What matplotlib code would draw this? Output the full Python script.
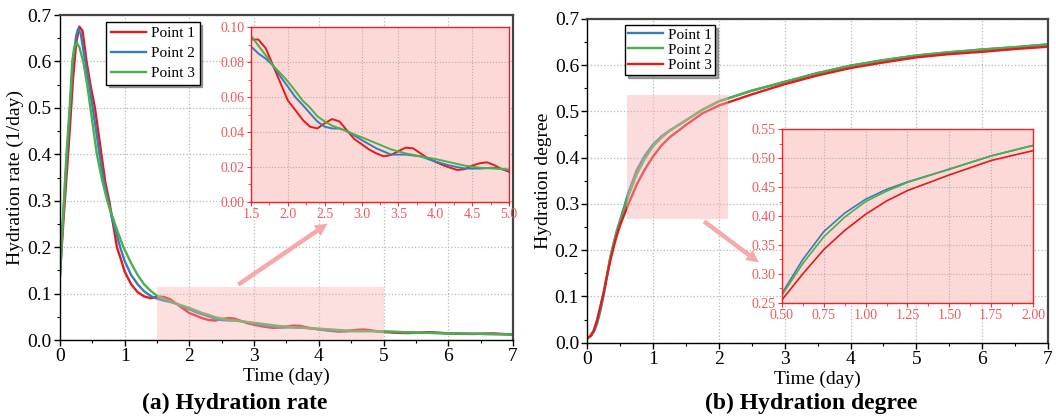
import numpy as np
import matplotlib
matplotlib.use('Agg')
import matplotlib.pyplot as plt
from matplotlib.ticker import MultipleLocator
from matplotlib.patches import Rectangle

plt.rcParams['font.family'] = ['Liberation Serif', 'DejaVu Serif']
plt.rcParams['lines.solid_joinstyle'] = 'round'

# ---------------- (a) hydration rate ----------------
rate_t_p1 = [0, 0.05, 0.1, 0.15, 0.2, 0.25, 0.3, 0.35, 0.41, 0.47, 0.54, 0.6, 0.64, 0.7, 0.76, 0.82,
             0.88, 0.95, 1.0, 1.1, 1.2, 1.3, 1.4, 1.5, 1.6, 1.7, 1.8, 1.9, 2.0, 2.1, 2.2, 2.3,
             2.4, 2.5, 2.6, 2.7, 2.8, 2.9, 3.0, 3.1, 3.2, 3.3, 3.4, 3.5, 3.6, 3.7, 3.8, 3.9,
             4.0, 4.1, 4.2, 4.3, 4.4, 4.5, 4.6, 4.7, 4.8, 4.9, 5.0, 5.2, 5.4, 5.55, 5.7, 5.85,
             6.0, 6.2, 6.4, 6.55, 6.7, 6.85, 7.0]
rate_p1 = [0.14, 0.25, 0.35, 0.45, 0.56, 0.64, 0.675, 0.665, 0.60, 0.55, 0.50, 0.44, 0.40, 0.34, 0.30, 0.25,
           0.20, 0.17, 0.147, 0.12, 0.103, 0.094, 0.09, 0.093, 0.093, 0.088, 0.078, 0.068, 0.058, 0.0526, 0.047, 0.043,
           0.042, 0.045, 0.0474, 0.046, 0.041, 0.036, 0.033, 0.030, 0.0277, 0.026, 0.0268, 0.029, 0.031, 0.0306, 0.0277, 0.0249,
           0.023, 0.021, 0.0195, 0.0182, 0.0187, 0.0207, 0.022, 0.0226, 0.021, 0.0187, 0.0172, 0.0155, 0.015, 0.016, 0.017, 0.0158,
           0.0142, 0.0132, 0.013, 0.0138, 0.0142, 0.013, 0.012]

rate_t_p2 = [0, 0.05, 0.1, 0.15, 0.2, 0.25, 0.28, 0.32, 0.39, 0.45, 0.505, 0.56, 0.61, 0.68, 0.745, 0.8,
             0.86, 0.93, 1.0, 1.1, 1.2, 1.3, 1.4, 1.5, 1.6, 1.7, 1.8, 1.9, 2.0, 2.1, 2.2, 2.3,
             2.4, 2.5, 2.6, 2.7, 2.8, 2.9, 3.0, 3.2, 3.4, 3.6, 3.8, 4.0, 4.2, 4.4, 4.6, 4.8,
             5.0, 5.5, 6.0, 6.5, 7.0]
rate_p2 = [0.14, 0.27, 0.38, 0.49, 0.60, 0.655, 0.67, 0.66, 0.60, 0.55, 0.50, 0.45, 0.40, 0.34, 0.30, 0.265,
           0.235, 0.20, 0.17, 0.14, 0.12, 0.105, 0.095, 0.089, 0.085, 0.082, 0.078, 0.0717, 0.066, 0.060, 0.0555, 0.0507,
           0.046, 0.043, 0.042, 0.042, 0.0405, 0.038, 0.0354, 0.0306, 0.027, 0.027, 0.026, 0.023, 0.0207, 0.019, 0.019, 0.0195,
           0.018, 0.016, 0.0145, 0.0132, 0.012]

rate_t_p3 = [0, 0.05, 0.1, 0.15, 0.19, 0.22, 0.26, 0.3, 0.36, 0.42, 0.47, 0.52, 0.57, 0.65, 0.73, 0.8,
             0.9, 0.98, 1.05, 1.1, 1.2, 1.3, 1.4, 1.5, 1.6, 1.7, 1.8, 1.9, 2.0, 2.1, 2.2, 2.3,
             2.4, 2.5, 2.6, 2.7, 2.8, 2.9, 3.0, 3.2, 3.4, 3.6, 3.8, 4.0, 4.2, 4.4, 4.6, 4.8,
             5.0, 5.5, 6.0, 6.5, 7.0]
rate_p3 = [0.14, 0.27, 0.40, 0.50, 0.60, 0.63, 0.64, 0.63, 0.60, 0.55, 0.50, 0.45, 0.40, 0.345, 0.30, 0.27,
           0.23, 0.20, 0.18, 0.165, 0.14, 0.12, 0.106, 0.0952, 0.0895, 0.084, 0.078, 0.0736, 0.069, 0.0636, 0.058, 0.054,
           0.049, 0.046, 0.0436, 0.042, 0.0405, 0.0386, 0.037, 0.0335, 0.030, 0.0277, 0.026, 0.0245, 0.0226, 0.0207, 0.0195, 0.019,
           0.0185, 0.016, 0.0145, 0.0132, 0.012]

# ---------------- (b) hydration degree ----------------
deg_t = [0, 0.05, 0.1, 0.15, 0.2, 0.25, 0.3, 0.35, 0.4, 0.45, 0.5, 0.625, 0.75, 0.875, 1.0, 1.125,
         1.25, 1.5, 1.75, 2.0, 2.5, 3.0, 3.5, 4.0, 4.5, 5.0, 5.5, 6.0, 6.5, 7.0]
deg_p1 = [0.01, 0.014, 0.024, 0.042, 0.07, 0.105, 0.145, 0.185, 0.215, 0.243, 0.266, 0.325, 0.373, 0.405, 0.429, 0.446,
          0.459, 0.481, 0.504, 0.522, 0.545, 0.564, 0.583, 0.599, 0.611, 0.621, 0.628, 0.634, 0.639, 0.645]
deg_p2 = [0.01, 0.015, 0.027, 0.048, 0.076, 0.11, 0.148, 0.185, 0.214, 0.241, 0.263, 0.318, 0.364, 0.398, 0.425, 0.443,
          0.458, 0.481, 0.504, 0.522, 0.545, 0.564, 0.583, 0.599, 0.611, 0.621, 0.628, 0.634, 0.639, 0.645]
deg_p3 = [0.01, 0.015, 0.027, 0.05, 0.08, 0.11, 0.145, 0.178, 0.207, 0.233, 0.255, 0.30, 0.342, 0.375, 0.403, 0.426,
          0.444, 0.471, 0.496, 0.513, 0.537, 0.559, 0.578, 0.594, 0.606, 0.617, 0.624, 0.629, 0.635, 0.640]

labels = ['Point 1', 'Point 2', 'Point 3']
RED, BLUE, GREEN = '#e41a1c', '#377eb8', '#4daf4a'
PINK = '#f7a8a8'
INSET_RED = '#f05a5a'


def style_main(ax, xlabel, ylabel):
    ax.set_xlim(0, 7)
    ax.set_ylim(0, 0.7)
    ax.xaxis.set_major_locator(MultipleLocator(1))
    ax.xaxis.set_minor_locator(MultipleLocator(0.5))
    ax.yaxis.set_minor_locator(MultipleLocator(0.05))
    ax.set_yticks(np.arange(0, 0.71, 0.1))
    ax.set_yticklabels(['%.1f' % v for v in np.arange(0, 0.71, 0.1)])
    ax.tick_params(which='major', direction='out', length=4, width=1, labelsize=14, pad=2)
    ax.tick_params(which='minor', direction='out', length=2.5, width=0.8)
    ax.grid(True, which='major', ls=':', color='#b8b8b8', lw=0.9)
    for s in ax.spines.values():
        s.set_linewidth(1.0)
    for k in ('top', 'right'):
        ax.spines[k].set_linewidth(1.6)
        ax.spines[k].set_color('#444444')
    ax.set_xlabel(xlabel, fontsize=14, labelpad=2)
    ax.set_ylabel(ylabel, fontsize=14, labelpad=2)


def style_inset(ax, xlim, ylim, xmaj, xmin, ymaj, ymin, xfmt, yfmt):
    ax.set_facecolor('#fcd8d7')
    ax.set_xlim(*xlim)
    ax.set_ylim(*ylim)
    ax.xaxis.set_minor_locator(MultipleLocator(xmin))
    ax.yaxis.set_minor_locator(MultipleLocator(ymin))
    xt = np.arange(xlim[0], xlim[1] + xmaj / 2, xmaj)
    yt = np.arange(ylim[0], ylim[1] + ymaj / 2, ymaj)
    ax.set_xticks(xt)
    ax.set_xticklabels([xfmt % v for v in xt])
    ax.set_yticks(yt)
    ax.set_yticklabels([yfmt % v for v in yt])
    ax.tick_params(which='major', direction='out', length=3, width=0.8, colors='#ee3333',
                   labelcolor=INSET_RED, labelsize=10, pad=1.5)
    ax.tick_params(which='minor', direction='out', length=2, width=0.6, colors='#ee3333')
    ax.grid(True, which='major', ls=':', color='#b0b0b0', lw=0.8)
    for s in ax.spines.values():
        s.set_color('#ee2222')
        s.set_linewidth(1.0)


fig = plt.figure(figsize=(10.56, 4.19), dpi=100)
ax1 = fig.add_axes([0.0568, 0.1885, 0.429, 0.7757])
ax2 = fig.add_axes([0.5562, 0.1821, 0.4362, 0.7726])

# (a)
ax1.plot(rate_t_p1, rate_p1, color=RED, lw=1.7, label=labels[0])
ax1.plot(rate_t_p2, rate_p2, color=BLUE, lw=1.7, label=labels[1])
ax1.plot(rate_t_p3, rate_p3, color=GREEN, lw=1.7, label=labels[2])
style_main(ax1, 'Time (day)', 'Hydration rate (1/day)')
ax1.add_patch(Rectangle((1.5, 0), 3.5, 0.115, facecolor='#f8b0b0', alpha=0.4,
                        edgecolor='none', zorder=5))
ax1.annotate('', xy=(4.17, 0.254), xytext=(2.72, 0.116),
             arrowprops=dict(arrowstyle='simple,head_width=0.9,head_length=0.9,tail_width=0.32',
                             color=PINK, lw=0), zorder=6)
ax1.legend(loc='upper left', bbox_to_anchor=(0.102, 0.978), borderaxespad=0, fontsize=11,
           fancybox=False, shadow=True, edgecolor='black', framealpha=1,
           handlelength=2.3, labelspacing=0.4, borderpad=0.3, handletextpad=0.35)

in1 = fig.add_axes([0.2377, 0.5186, 0.2443, 0.4162])
in1.plot(rate_t_p1, rate_p1, color=RED, lw=1.4)
in1.plot(rate_t_p2, rate_p2, color=BLUE, lw=1.4)
in1.plot(rate_t_p3, rate_p3, color=GREEN, lw=1.4)
style_inset(in1, (1.5, 5.0), (0, 0.1), 0.5, 0.25, 0.02, 0.01, '%.1f', '%.2f')

# (b)
ax2.plot(deg_t, deg_p1, color=BLUE, lw=1.7, label=labels[0])
ax2.plot(deg_t, deg_p2, color=GREEN, lw=1.7, label=labels[1])
ax2.plot(deg_t, deg_p3, color=RED, lw=1.7, label=labels[2])
style_main(ax2, 'Time (day)', 'Hydration degree')
ax2.add_patch(Rectangle((0.61, 0.268), 1.53, 0.267, facecolor='#f8b0b0', alpha=0.45,
                        edgecolor='none', zorder=5))
ax2.annotate('', xy=(2.64, 0.17), xytext=(1.74, 0.266),
             arrowprops=dict(arrowstyle='simple,head_width=0.9,head_length=0.9,tail_width=0.32',
                             color=PINK, lw=0), zorder=6)
ax2.legend(loc='upper left', bbox_to_anchor=(0.082, 0.982), borderaxespad=0, fontsize=11,
           fancybox=False, shadow=True, edgecolor='black', framealpha=1,
           handlelength=2.3, labelspacing=0.1, borderpad=0.2, handletextpad=0.3)

in2 = fig.add_axes([0.7405, 0.2776, 0.2377, 0.4138])
in2.plot(deg_t, deg_p1, color=BLUE, lw=1.2)
in2.plot(deg_t, deg_p2, color=GREEN, lw=1.2)
in2.plot(deg_t, deg_p3, color=RED, lw=1.2)
style_inset(in2, (0.5, 2.0), (0.25, 0.55), 0.25, 0.125, 0.05, 0.025, '%.2f', '%.2f')

# panel captions
fig.text(235 / 1056, 1 - 403 / 419, '(a) Hydration rate', fontsize=17, fontweight='bold',
         ha='center', va='center')
fig.text(811 / 1056, 1 - 403 / 419, '(b) Hydration degree', fontsize=17, fontweight='bold',
         ha='center', va='center')

fig.savefig('out.png', dpi=100)
